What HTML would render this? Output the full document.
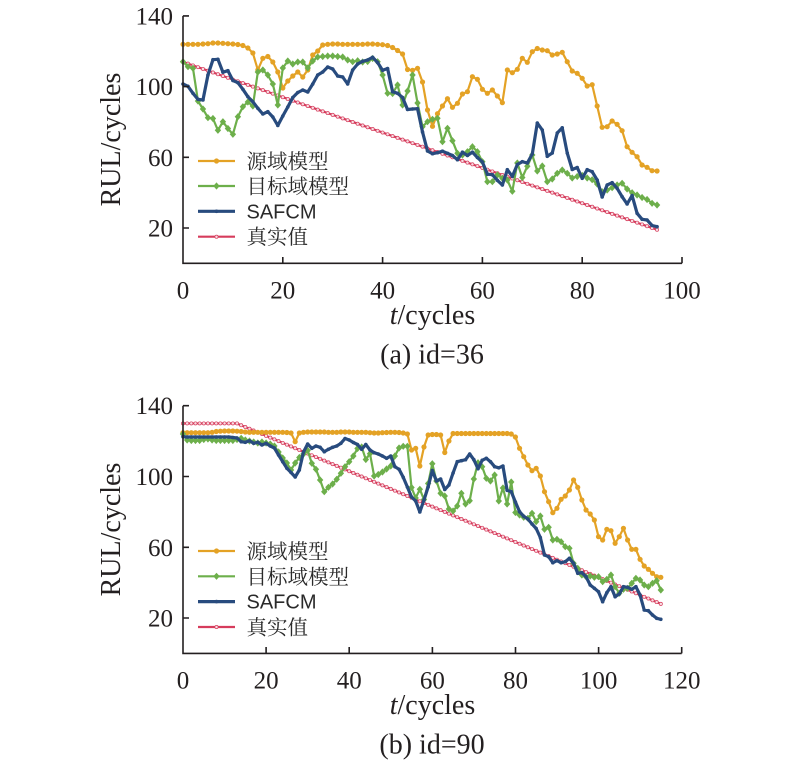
<!DOCTYPE html>
<html><head><meta charset="utf-8">
<style>
html,body{margin:0;padding:0;background:#fff;}
svg{display:block;}
.tk{font-family:"Liberation Serif",serif;font-size:25px;fill:#231f20;}
.lab{font-family:"Liberation Serif",serif;font-size:28px;fill:#231f20;}
.cjk{font-family:"Liberation Serif","Noto Serif CJK SC",serif;font-size:20.5px;fill:#2a2a2a;}
.sf{font-family:"Liberation Sans",sans-serif;font-size:20px;fill:#2a2a2a;}
</style></head><body>
<svg id="s" width="800" height="760" viewBox="0 0 800 760" xmlns="http://www.w3.org/2000/svg">
<rect width="800" height="760" fill="#fff"/>
<g id="ga"></g>
<g id="gb"></g>
<!-- Axes A -->
<g stroke="#231f20" stroke-width="1.6" fill="none">
<path d="M183 15.9V263.3H682"/>
<path d="M183 15.9H189M183 86.6H189M183 157.3H189M183 228H189"/>
<path d="M282.8 263.3V257M382.6 263.3V257M482.4 263.3V257M582.2 263.3V257M682 263.3V257"/>
<path d="M183 405.7V653.4H681.7"/>
<path d="M183 405.7H189M183 476.5H189M183 547.3H189M183 618H189"/>
<path d="M266.1 653.4V647M349.2 653.4V647M432.4 653.4V647M515.5 653.4V647M598.6 653.4V647M681.7 653.4V647"/>
</g>
<!-- Tick labels A -->
<g class="tk" text-anchor="end">
<text x="173" y="24.4">140</text><text x="173" y="95.1">100</text><text x="173" y="165.8">60</text><text x="173" y="236.5">20</text>
</g>
<g class="tk" text-anchor="middle">
<text x="183" y="298.3">0</text><text x="282.8" y="298.3">20</text><text x="382.6" y="298.3">40</text><text x="482.4" y="298.3">60</text><text x="582.2" y="298.3">80</text><text x="682" y="298.3">100</text>
</g>
<text class="lab" x="432.5" y="324" text-anchor="middle"><tspan font-style="italic">t</tspan>/cycles</text>
<text class="lab" x="432" y="363.5" text-anchor="middle">(a) id=36</text>
<text class="lab" transform="translate(120,139.5) rotate(-90)" x="0" y="0" text-anchor="middle">RUL/cycles</text>
<!-- Tick labels B -->
<g class="tk" text-anchor="end">
<text x="173" y="414.2">140</text><text x="173" y="485">100</text><text x="173" y="555.8">60</text><text x="173" y="626.5">20</text>
</g>
<g class="tk" text-anchor="middle">
<text x="183" y="688.4">0</text><text x="266.1" y="688.4">20</text><text x="349.2" y="688.4">40</text><text x="432.4" y="688.4">60</text><text x="515.5" y="688.4">80</text><text x="598.6" y="688.4">100</text><text x="681.7" y="688.4">120</text>
</g>
<text class="lab" x="432.5" y="714" text-anchor="middle"><tspan font-style="italic">t</tspan>/cycles</text>
<text class="lab" x="432" y="753.5" text-anchor="middle">(b) id=90</text>
<text class="lab" transform="translate(120,529.5) rotate(-90)" x="0" y="0" text-anchor="middle">RUL/cycles</text>
<!-- Legend A -->
<g id="la"></g>
<text class="cjk" x="246.5" y="168.5">源域模型</text>
<text class="cjk" x="246.5" y="193.5">目标域模型</text>
<text class="sf" x="246.5" y="218.3">SAFCM</text>
<text class="cjk" x="246.5" y="244.2">真实值</text>
<!-- Legend B -->
<g id="lb"></g>
<text class="cjk" x="246.5" y="558.5">源域模型</text>
<text class="cjk" x="246.5" y="583.8">目标域模型</text>
<text class="sf" x="246.5" y="608.6">SAFCM</text>
<text class="cjk" x="246.5" y="634.5">真实值</text>
</svg>
<script>
(function(){
var NS="http://www.w3.org/2000/svg";
function el(tag,attrs,parent){var e=document.createElementNS(NS,tag);for(var k in attrs)e.setAttribute(k,attrs[k]);parent.appendChild(e);return e;}
var C={o:'#E4A225',g:'#6DAF4B',b:'#284B7E',r:'#D63C5C'};
function marker(g,mk,x,y,c){
 if(mk==='o') el('circle',{cx:x,cy:y,r:2.6,fill:c},g);
 else if(mk==='d') el('path',{d:'M'+x+' '+(y-3.6)+'L'+(x+3.2)+' '+y+'L'+x+' '+(y+3.6)+'L'+(x-3.2)+' '+y+'Z',fill:c},g);
 else if(mk==='b') el('circle',{cx:x,cy:y,r:1.8,fill:c},g);
 else if(mk==='r') el('circle',{cx:x,cy:y,r:1.6,fill:'#f8dce2',stroke:c,'stroke-width':0.7},g);
}
function series(g,x0,dx,ys,color,w,mk){
 var pts=[];for(var i=0;i<ys.length;i++)pts.push((x0+dx*i).toFixed(2)+','+ys[i].toFixed(2));
 el('polyline',{points:pts.join(' '),fill:'none',stroke:color,'stroke-width':w,'stroke-linejoin':'round','stroke-linecap':'round'},g);
 for(var j=0;j<ys.length;j++)marker(g,mk,x0+dx*j,ys[j],color);
}
function legend(g,ys){
 var spec=[['o',C.o,2.2],['d',C.g,2.2],['b',C.b,3.2],['r',C.r,2.2]];
 for(var i=0;i<4;i++){
  el('line',{x1:198,y1:ys[i],x2:235,y2:ys[i],stroke:spec[i][1],'stroke-width':spec[i][2]},g);
  marker(g,spec[i][0],216.5,ys[i],spec[i][1]);
 }
}
var OA=[44.3,44.3,44.3,44.3,44,43.7,43,43,43.3,43.7,
44,44.5,45.5,48,53,70,58.3,56.5,62,72,
88,81,76,72,77,70,55,51,45,44.3,
44,44,44.3,44.3,44.3,44.3,44.3,44,44,44.3,
44.7,45.5,47.5,50.5,54,69.5,70.3,68.3,82,110,
126.3,113.7,106,98.7,107.3,103.3,94,91.7,76.7,79.3,
89.3,93.3,90,96,102.7,70,72.7,69.3,58.3,62.3,
51.7,48.5,50,50.7,55,54,52.3,61.7,71,73.3,
78.3,86,84.7,106,127.3,126.7,121,124.3,130.7,146.7,
152.3,156.7,165,167.3,170.7,171];
var GA=[61.7,66.7,68.3,101,109,117.7,118.5,130.3,121.7,128.5,
134.3,116.7,106.7,102,106,72,70,75,84,105,
68,61,64,62,62,68,61,57,56.5,56,
56,56.5,57,60,61.7,60.7,62,61.5,58.5,61.7,
75,93.3,93.5,85,105,91,75,103,126.7,121.7,
119.3,118.3,141.7,128.3,140.7,153.3,155,151.7,146.7,151.7,
161.7,181.7,181.7,175,178.3,180,191.3,163,177.5,166.3,
155,171,166,181.7,179,173.3,170,173.3,178,176.5,
175.5,178,179.7,184,191.7,190,187.7,185,183.3,189,
192.7,195,197.5,199.5,203.3,205];
var BA=[84,86.3,93.3,99.3,100,75,59.7,59.3,72.2,70.7,
80.5,82.7,89.3,96.7,101.7,108.3,114,111.7,117,125.5,
116,107,97.5,92.5,90,92,84,75,72,67,
69,76,77,84,70,64,61.3,60,57.3,62.5,
70.3,68.5,91.7,93.3,97.5,109.5,109,108.7,132,151,
153.7,152.7,151.2,153.3,155.5,159.7,152.2,155.5,152.2,157.5,
162,174.2,174.7,180.3,185,169.7,176.4,164.5,161.7,163,
154,123,130,156.3,153,133,127.8,153,169.5,167.5,
178.3,169.7,171.7,180,197,185,182.7,188.3,196.7,204,
195.5,213.3,219.3,220,225.5,226.7];
var RA=[];for(var t=0;t<96;t++)RA.push(263.3-1.767*(114-t));
var OB=[432.7,432.7,432.7,432.7,432.7,432.7,432.7,432.3,431.5,431.2,
431,431,431,431.2,431.5,432,432.3,432.3,432.3,432.3,
432.3,432.3,432.3,432.3,432.3,432.5,433,441.7,433,432.3,
432,432,432,432,432,432.3,432.3,432.3,432,432,
432,432.3,432.3,432.3,432.3,432.7,433,433,432.7,432.5,
432.3,432.3,432.5,433,434,450,448.3,466,447,435,
434.5,434.5,435,452.5,441,433.5,433.5,433.5,433.5,433.5,
433.5,433.5,433.5,433.5,433.5,433.5,433.5,433.5,433.5,434,
437,448.3,456.7,465,470.7,468.3,476,491.7,501.7,512.7,
508.3,499.3,496,490,480,487.3,500,510,514,520,
536.7,540,529.3,530.7,543.3,536.7,528.3,540,549.3,549.3,
559.3,566,569.3,573.3,576.7,577.3];
var GB=[434,440,440.5,440.5,440.5,439.5,439,440,440.5,440.5,
440.5,440.5,440.5,439.5,438.3,440,441,442,443,442,
443,444,446,452,458,463,470,463,457.5,454,
450.5,463.3,469.3,480,491.7,487.3,484,479.3,473.3,466.7,
461.7,456,448.5,447,459.5,453.7,476,474.5,472,469,
466,456,448,446.3,446.3,487.5,498,489.3,499.5,483.5,
463.7,481,493.3,496,509,511,506,493.3,504,500.7,
479,462.7,466.7,478.3,481,475,501,488,504,482,
512.5,515,517.3,518.3,513.3,521.7,516,529.3,527.3,540,
539.3,541.7,546.7,548.3,563.3,568.3,575,576.7,576,577.3,
576.7,581.7,579.3,575,586.7,593.3,589.3,588.3,583.3,578.3,
580,585,586.7,583.3,580.7,590];
var BB=[436.7,437,437,437,437,437,437,437,437,437,
437,437,437.5,438,441.7,442.3,440.8,443.3,442.3,445,
443.3,446,448,455,461.7,468.3,472.5,477,470,452,
444,448.3,446,447.3,451.7,449.3,447.3,446,443.3,438.5,
440,442.5,444.5,449.3,444.5,450,452.7,454,456,458.3,
456,466.7,469.3,477.3,487,497,501,512,500,487,
470.5,481,479,489.5,485,473,461.7,460.7,459.7,454,
459.7,468.7,460.3,458.3,461.7,466.7,467.8,466,490.3,491.7,
502,511.7,516.3,519,524,528.5,537.5,555,556.7,562.7,
560.7,562.7,561.7,558.3,563.3,573.3,572.7,576.7,585,588.3,
591.7,601.7,592.7,586.7,596.7,594,586.7,587.3,589.3,586.7,
595,610,610.7,615,618.3,619.3];
var RB=[];for(var u=0;u<116;u++)RB.push(653.4-1.769*Math.min(130,143-u));
var ga=document.getElementById('ga'),gb=document.getElementById('gb');
series(ga,183,4.99,RA,C.r,2.2,'r');
series(ga,183,4.99,OA,C.o,2.2,'o');
series(ga,183,4.99,GA,C.g,2.2,'d');
series(ga,183,4.99,BA,C.b,3.2,'b');
series(gb,183,4.155,RB,C.r,2.2,'r');
series(gb,183,4.155,OB,C.o,2.2,'o');
series(gb,183,4.155,GB,C.g,2.2,'d');
series(gb,183,4.155,BB,C.b,3.2,'b');
legend(document.getElementById('la'),[161,186,211.3,236.7]);
legend(document.getElementById('lb'),[551,576.3,601.6,627]);
})();
</script>
</body></html>
